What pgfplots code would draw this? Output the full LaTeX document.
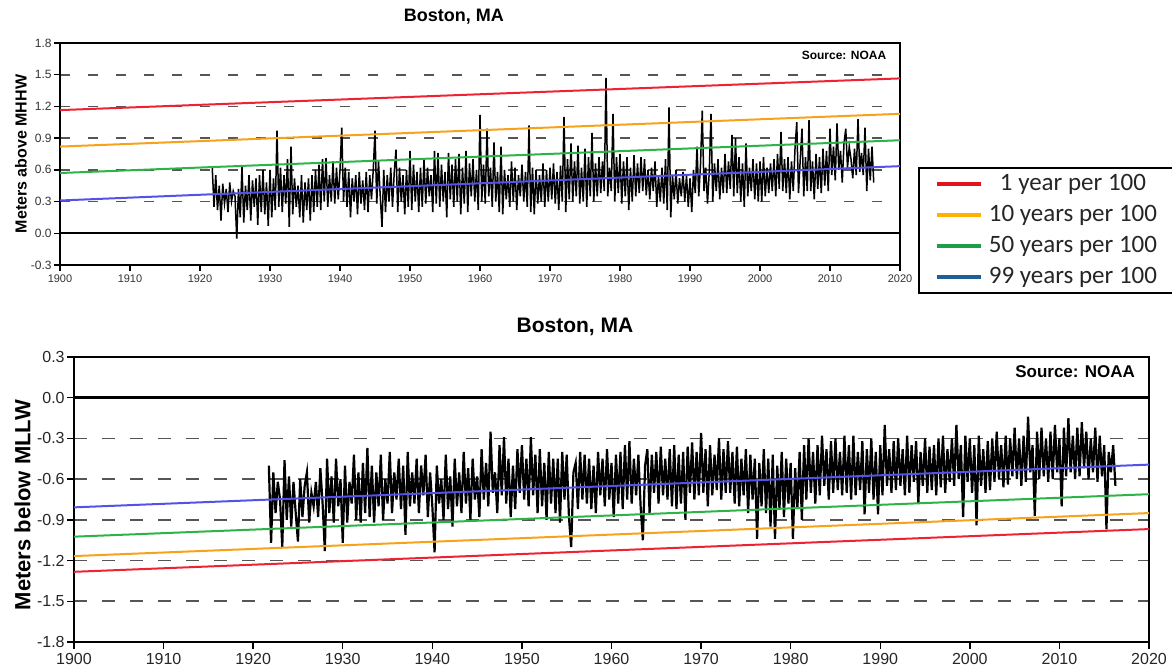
\documentclass[border=0pt]{standalone}
\usepackage{fontspec}
\setmainfont{Liberation Sans}
\newfontfamily\legendfont{Carlito}
\usepackage{pgfplots}
\pgfplotsset{compat=1.18}
% line colours in the panels
\definecolor{lred}{HTML}{EE2233}
\definecolor{lorange}{HTML}{F7A21B}
\definecolor{lgreen}{HTML}{2CB34A}
\definecolor{lblue}{HTML}{5452E6}
% colours used in the legend box
\definecolor{kred}{HTML}{E3131B}
\definecolor{korange}{HTML}{FFB000}
\definecolor{kgreen}{HTML}{1F9E4A}
\definecolor{kblue}{HTML}{1E5F99}
\definecolor{gridc}{HTML}{555555}

\pgfplotsset{
  tide/.style={
    scale only axis,
    xmin=1900, xmax=2020,
    xtick={1900,1910,...,2020},
    xtick pos=left, ytick pos=left,
    tick align=outside, major tick length=3pt,
    tick style={black, line width=0.7pt},
    ymajorgrids,
    /pgf/number format/assume math mode=true,
    x tick label style={/pgf/number format/1000 sep={}},
    y tick label style={/pgf/number format/fixed, /pgf/number format/fixed zerofill,
      /pgf/number format/precision=1},
    clip=true,
  },
}
% legend text: centred, with room after it so the box runs past the page edge
\newcommand\lgd[1]{\makebox[100pt][l]{\makebox[86pt][c]{#1}}}

\begin{document}
\begin{tikzpicture}
\path[use as bounding box] (0,0) rectangle (586pt,336pt);

%----------------------------------------------------------- upper panel
\begin{axis}[tide,
  at={(30pt,203.5pt)}, anchor=south west,
  width=420pt, height=111pt,
  ymin=-0.3, ymax=1.8,
  ytick={-0.3,0,0.3,0.6,0.9,1.2,1.5,1.8},
  axis line style={line width=1pt},
  grid style={dash pattern=on 5pt off 9pt, gridc, line width=0.8pt},
  x tick label style={font=\fontsize{5.5}{6}\selectfont, text=black!80, inner sep=1.5pt},
  y tick label style={font=\fontsize{6}{7}\selectfont, text=black!80, inner sep=1pt},
  title={Boston, MA},
  every axis title/.style={at={(axis description cs:0.469,1)}, yshift=13pt, anchor=center,
    font=\bfseries\fontsize{9}{10}\selectfont},
  ylabel={Meters above MHHW},
  every axis y label/.style={at={(axis description cs:-0.0464,0.5)}, rotate=90, anchor=center,
    font=\bfseries\fontsize{8}{9}\selectfont},
  legend style={at={(axis description cs:1.0214,0.44)}, anchor=north west,
    draw=black, line width=1pt, text=black!85,
    font=\legendfont\fontsize{12.5}{14}\selectfont,
    inner xsep=8pt, inner ysep=1pt, row sep=1.9pt,
    cells={inner xsep=1pt}},
  legend image code/.code={\draw[#1, line width=2pt] (0pt,0pt) -- (22pt,0pt);},
]
\addplot[black, line width=0.75pt, forget plot] coordinates {
(1921.75,0.62)
(1922,0.25)(1922.25,0.55)(1922.5,0.22)(1922.75,0.45)
(1923,0.12)(1923.25,0.47)(1923.5,0.28)(1923.75,0.42)
(1924,0.20)(1924.25,0.48)(1924.5,0.30)(1924.75,0.40)
(1925,0.35)(1925.25,-0.05)(1925.5,0.42)(1925.75,0.15)
(1926,0.63)(1926.25,0.10)(1926.5,0.45)(1926.75,0.22)
(1927,0.55)(1927.25,0.12)(1927.5,0.50)(1927.75,0.25)
(1928,0.52)(1928.25,0.08)(1928.5,0.55)(1928.75,0.20)
(1929,0.60)(1929.25,0.18)(1929.5,0.48)(1929.75,0.07)
(1930,0.60)(1930.25,0.15)(1930.5,0.52)(1930.75,0.22)
(1931,0.97)(1931.25,0.25)(1931.5,0.62)(1931.75,0.20)
(1932,0.55)(1932.25,0.28)(1932.5,0.70)(1932.75,0.06)
(1933,0.82)(1933.25,0.18)(1933.5,0.52)(1933.75,0.25)
(1934,0.45)(1934.25,0.15)(1934.5,0.55)(1934.75,0.10)
(1935,0.48)(1935.25,0.22)(1935.5,0.52)(1935.75,0.12)
(1936,0.55)(1936.25,0.20)(1936.5,0.60)(1936.75,0.25)
(1937,0.65)(1937.25,0.22)(1937.5,0.70)(1937.75,0.30)
(1938,0.71)(1938.25,0.25)(1938.5,0.55)(1938.75,0.30)
(1939,0.68)(1939.25,0.28)(1939.5,0.62)(1939.75,0.32)
(1940,0.60)(1940.25,1.00)(1940.5,0.30)(1940.75,0.62)
(1941,0.25)(1941.25,0.58)(1941.5,0.15)(1941.75,0.52)
(1942,0.30)(1942.25,0.55)(1942.5,0.18)(1942.75,0.58)
(1943,0.28)(1943.25,0.50)(1943.5,0.22)(1943.75,0.58)
(1944,0.20)(1944.25,0.55)(1944.5,0.32)(1944.75,0.60)
(1945,0.97)(1945.25,0.28)(1945.5,0.68)(1945.75,0.35)
(1946,0.06)(1946.25,0.60)(1946.5,0.20)(1946.75,0.55)
(1947,0.30)(1947.25,0.62)(1947.5,0.25)(1947.75,0.58)
(1948,0.79)(1948.25,0.20)(1948.5,0.62)(1948.75,0.30)
(1949,0.55)(1949.25,0.18)(1949.5,0.60)(1949.75,0.25)
(1950,0.78)(1950.25,0.22)(1950.5,0.65)(1950.75,0.30)
(1951,0.58)(1951.25,0.20)(1951.5,0.62)(1951.75,0.25)
(1952,0.70)(1952.25,0.28)(1952.5,0.62)(1952.75,0.35)
(1953,0.55)(1953.25,0.20)(1953.5,0.78)(1953.75,0.28)
(1954,0.76)(1954.25,0.25)(1954.5,0.65)(1954.75,0.30)
(1955,0.58)(1955.25,0.15)(1955.5,0.76)(1955.75,0.32)
(1956,0.65)(1956.25,0.25)(1956.5,0.70)(1956.75,0.30)
(1957,0.75)(1957.25,0.18)(1957.5,0.62)(1957.75,0.28)
(1958,0.78)(1958.25,0.20)(1958.5,0.66)(1958.75,0.35)
(1959,0.70)(1959.25,0.30)(1959.5,0.60)(1959.75,0.22)
(1960,1.12)(1960.25,0.30)(1960.5,0.65)(1960.75,0.28)
(1961,0.99)(1961.25,0.35)(1961.5,0.62)(1961.75,0.25)
(1962,0.86)(1962.25,0.30)(1962.5,0.58)(1962.75,0.20)
(1963,0.82)(1963.25,0.18)(1963.5,0.60)(1963.75,0.32)
(1964,0.55)(1964.25,0.25)(1964.5,0.68)(1964.75,0.30)
(1965,0.62)(1965.25,0.22)(1965.5,0.55)(1965.75,0.35)
(1966,0.65)(1966.25,0.30)(1966.5,0.58)(1966.75,0.25)
(1967,1.02)(1967.25,0.20)(1967.5,0.62)(1967.75,0.18)
(1968,0.60)(1968.25,0.28)(1968.5,0.55)(1968.75,0.30)
(1969,0.66)(1969.25,0.25)(1969.5,0.60)(1969.75,0.30)
(1970,0.62)(1970.25,0.32)(1970.5,0.66)(1970.75,0.28)
(1971,0.58)(1971.25,0.22)(1971.5,0.64)(1971.75,0.30)
(1972,1.10)(1972.25,0.20)(1972.5,0.70)(1972.75,0.32)
(1973,0.85)(1973.25,0.30)(1973.5,0.68)(1973.75,0.35)
(1974,0.83)(1974.25,0.28)(1974.5,0.62)(1974.75,0.30)
(1975,0.80)(1975.25,0.25)(1975.5,0.72)(1975.75,0.35)
(1976,0.95)(1976.25,0.30)(1976.5,0.66)(1976.75,0.35)
(1977,0.72)(1977.25,0.38)(1977.5,0.68)(1977.75,0.40)
(1978,1.47)(1978.25,0.35)(1978.5,0.62)(1978.75,0.40)
(1979,1.13)(1979.25,0.30)(1979.5,0.72)(1979.75,0.38)
(1980,0.75)(1980.25,0.28)(1980.5,0.68)(1980.75,0.35)
(1981,0.72)(1981.25,0.22)(1981.5,0.62)(1981.75,0.30)
(1982,0.74)(1982.25,0.35)(1982.5,0.66)(1982.75,0.38)
(1983,0.72)(1983.25,0.40)(1983.5,0.70)(1983.75,0.36)
(1984,0.60)(1984.25,0.32)(1984.5,0.62)(1984.75,0.40)
(1985,0.68)(1985.25,0.25)(1985.5,0.55)(1985.75,0.30)
(1986,0.62)(1986.25,0.28)(1986.5,0.70)(1986.75,0.22)
(1987,1.19)(1987.25,0.15)(1987.5,0.55)(1987.75,0.32)
(1988,0.60)(1988.25,0.28)(1988.5,0.52)(1988.75,0.35)
(1989,0.58)(1989.25,0.30)(1989.5,0.55)(1989.75,0.25)
(1990,0.52)(1990.25,0.20)(1990.5,0.60)(1990.75,0.38)
(1991,0.82)(1991.25,0.35)(1991.5,0.65)(1991.75,1.16)
(1992,0.40)(1992.25,0.62)(1992.5,0.28)(1992.75,0.58)
(1993,1.13)(1993.25,0.30)(1993.5,0.66)(1993.75,0.40)
(1994,0.70)(1994.25,0.32)(1994.5,0.62)(1994.75,0.38)
(1995,0.75)(1995.25,0.38)(1995.5,0.68)(1995.75,0.42)
(1996,0.93)(1996.25,0.35)(1996.5,0.90)(1996.75,0.38)
(1997,0.72)(1997.25,0.30)(1997.5,0.66)(1997.75,0.25)
(1998,0.85)(1998.25,0.35)(1998.5,0.62)(1998.75,0.40)
(1999,0.70)(1999.25,0.32)(1999.5,0.66)(1999.75,0.30)
(2000,0.68)(2000.25,0.30)(2000.5,0.72)(2000.75,0.35)
(2001,0.62)(2001.25,0.38)(2001.5,0.66)(2001.75,0.40)
(2002,0.70)(2002.25,0.35)(2002.5,0.75)(2002.75,0.42)
(2003,0.96)(2003.25,0.40)(2003.5,0.70)(2003.75,0.38)
(2004,0.72)(2004.25,0.32)(2004.5,0.68)(2004.75,0.40)
(2005,0.80)(2005.25,1.05)(2005.5,0.38)(2005.75,0.70)
(2006,0.99)(2006.25,0.35)(2006.5,0.72)(2006.75,0.40)
(2007,1.07)(2007.25,0.40)(2007.5,0.68)(2007.75,0.32)
(2008,0.75)(2008.25,0.42)(2008.5,0.72)(2008.75,0.38)
(2009,0.80)(2009.25,0.45)(2009.5,0.78)(2009.75,0.40)
(2010,0.99)(2010.25,0.55)(2010.5,0.82)(2010.75,0.50)
(2011,1.04)(2011.25,0.60)(2011.5,0.78)(2011.75,0.48)
(2012,0.85)(2012.25,0.99)(2012.5,0.62)(2012.75,0.82)
(2013,0.70)(2013.25,0.52)(2013.5,0.80)(2013.75,0.55)
(2014,1.08)(2014.25,0.58)(2014.5,0.76)(2014.75,0.55)
(2015,1.00)(2015.25,0.40)(2015.5,0.80)(2015.75,0.50)
(2016,0.82)(2016.25,0.48)
};
\addplot[black, line width=1pt, forget plot] coordinates {(1900,0) (2020,0)};
\addplot[lred, line width=1pt, forget plot] coordinates {(1900,1.165) (2020,1.465)};
\addplot[lorange, line width=1pt, forget plot] coordinates {(1900,0.82) (2020,1.13)};
\addplot[lgreen, line width=1pt, forget plot] coordinates {(1900,0.57) (2020,0.88)};
\addplot[lblue, line width=1pt, forget plot] coordinates {(1900,0.31) (2020,0.635)};
\node[anchor=east, font=\bfseries\fontsize{6}{7}\selectfont] at (axis description cs:0.992,0.946) {Source: NOAA};
\addlegendimage{kred}\addlegendentry{\lgd{1 year per 100}}
\addlegendimage{korange}\addlegendentry{\lgd{10 years per 100}}
\addlegendimage{kgreen}\addlegendentry{\lgd{50 years per 100}}
\addlegendimage{kblue}\addlegendentry{\lgd{99 years per 100}}
\end{axis}

%----------------------------------------------------------- lower panel
\begin{axis}[tide,
  at={(37pt,15pt)}, anchor=south west,
  width=537.5pt, height=142.5pt,
  ymin=-1.8, ymax=0.3,
  ytick={-1.8,-1.5,-1.2,-0.9,-0.6,-0.3,0,0.3},
  axis line style={line width=1.3pt},
  major tick length=3.5pt,
  grid style={dash pattern=on 6.5pt off 7.5pt, gridc, line width=0.9pt},
  x tick label style={font=\fontsize{8}{9}\selectfont, text=black!85, inner sep=2pt},
  y tick label style={font=\fontsize{8}{9}\selectfont, text=black!85, inner sep=1pt},
  title={Boston, MA},
  every axis title/.style={at={(axis description cs:0.466,1)}, yshift=15pt, anchor=center,
    font=\bfseries\fontsize{10.5}{12}\selectfont},
  ylabel={Meters below MLLW},
  every axis y label/.style={at={(axis description cs:-0.048,0.48)}, rotate=90, anchor=center,
    font=\bfseries\fontsize{11}{12}\selectfont},
]
\addplot[black, line width=1.1pt] coordinates {
(1921.75,-0.50)
(1922,-1.07)(1922.25,-0.55)(1922.5,-0.85)(1922.75,-0.62)
(1923,-0.75)(1923.25,-1.10)(1923.5,-0.46)(1923.75,-0.90)
(1924,-0.58)(1924.25,-0.95)(1924.5,-0.62)(1924.75,-0.85)
(1925,-1.06)(1925.25,-0.60)(1925.5,-0.88)(1925.75,-0.65)
(1926,-0.55)(1926.25,-0.92)(1926.5,-0.70)(1926.75,-0.80)
(1927,-0.62)(1927.25,-0.88)(1927.5,-0.52)(1927.75,-0.78)
(1928,-1.13)(1928.25,-0.45)(1928.5,-0.85)(1928.75,-0.58)
(1929,-0.92)(1929.25,-0.45)(1929.5,-0.80)(1929.75,-0.60)
(1930,-1.07)(1930.25,-0.50)(1930.5,-0.92)(1930.75,-0.62)
(1931,-0.78)(1931.25,-0.42)(1931.5,-0.90)(1931.75,-0.55)
(1932,-0.92)(1932.25,-0.48)(1932.5,-0.85)(1932.75,-0.37)
(1933,-0.88)(1933.25,-0.50)(1933.5,-0.92)(1933.75,-0.55)
(1934,-0.80)(1934.25,-0.42)(1934.5,-0.90)(1934.75,-0.60)
(1935,-0.78)(1935.25,-0.40)(1935.5,-0.85)(1935.75,-0.55)
(1936,-0.75)(1936.25,-0.45)(1936.5,-0.82)(1936.75,-0.50)
(1937,-1.01)(1937.25,-0.40)(1937.5,-0.80)(1937.75,-0.55)
(1938,-0.78)(1938.25,-0.45)(1938.5,-0.85)(1938.75,-0.50)
(1939,-0.72)(1939.25,-0.42)(1939.5,-0.88)(1939.75,-0.55)
(1940,-0.80)(1940.25,-1.14)(1940.5,-0.50)(1940.75,-0.78)
(1941,-0.60)(1941.25,-0.90)(1941.5,-0.42)(1941.75,-0.82)
(1942,-0.58)(1942.25,-0.95)(1942.5,-0.45)(1942.75,-0.80)
(1943,-0.55)(1943.25,-0.85)(1943.5,-0.40)(1943.75,-0.78)
(1944,-0.52)(1944.25,-0.90)(1944.5,-0.45)(1944.75,-0.75)
(1945,-0.58)(1945.25,-0.88)(1945.5,-0.38)(1945.75,-0.75)
(1946,-0.48)(1946.25,-0.80)(1946.5,-0.25)(1946.75,-0.70)
(1947,-0.55)(1947.25,-0.85)(1947.5,-0.35)(1947.75,-0.72)
(1948,-0.29)(1948.25,-0.78)(1948.5,-0.45)(1948.75,-0.88)
(1949,-0.50)(1949.25,-0.82)(1949.5,-0.38)(1949.75,-0.70)
(1950,-0.35)(1950.25,-0.75)(1950.5,-0.45)(1950.75,-0.80)
(1951,-0.29)(1951.25,-0.72)(1951.5,-0.42)(1951.75,-0.85)
(1952,-0.38)(1952.25,-0.80)(1952.5,-0.48)(1952.75,-0.90)
(1953,-0.40)(1953.25,-0.78)(1953.5,-0.45)(1953.75,-0.85)
(1954,-0.45)(1954.25,-0.92)(1954.5,-0.40)(1954.75,-0.75)
(1955,-0.42)(1955.25,-0.88)(1955.5,-1.10)(1955.75,-0.55)
(1956,-0.48)(1956.25,-0.82)(1956.5,-0.40)(1956.75,-0.75)
(1957,-0.42)(1957.25,-0.78)(1957.5,-0.45)(1957.75,-0.82)
(1958,-0.50)(1958.25,-0.85)(1958.5,-0.40)(1958.75,-0.72)
(1959,-0.45)(1959.25,-0.80)(1959.5,-0.38)(1959.75,-0.75)
(1960,-0.48)(1960.25,-0.88)(1960.5,-0.42)(1960.75,-0.78)
(1961,-0.40)(1961.25,-0.82)(1961.5,-0.35)(1961.75,-0.75)
(1962,-0.32)(1962.25,-0.78)(1962.5,-0.45)(1962.75,-0.72)
(1963,-0.42)(1963.25,-0.80)(1963.5,-1.05)(1963.75,-0.50)
(1964,-0.38)(1964.25,-0.85)(1964.5,-0.42)(1964.75,-0.70)
(1965,-0.40)(1965.25,-0.78)(1965.5,-0.36)(1965.75,-0.72)
(1966,-0.45)(1966.25,-0.75)(1966.5,-0.38)(1966.75,-0.80)
(1967,-0.35)(1967.25,-0.82)(1967.5,-0.42)(1967.75,-0.78)
(1968,-0.40)(1968.25,-0.90)(1968.5,-0.36)(1968.75,-0.70)
(1969,-0.33)(1969.25,-0.75)(1969.5,-0.40)(1969.75,-0.72)
(1970,-0.26)(1970.25,-0.70)(1970.5,-0.38)(1970.75,-0.80)
(1971,-0.35)(1971.25,-0.72)(1971.5,-0.42)(1971.75,-0.68)
(1972,-0.30)(1972.25,-0.75)(1972.5,-0.38)(1972.75,-0.70)
(1973,-0.32)(1973.25,-0.70)(1973.5,-0.40)(1973.75,-0.78)
(1974,-0.36)(1974.25,-0.80)(1974.5,-0.45)(1974.75,-0.72)
(1975,-0.38)(1975.25,-0.85)(1975.5,-0.42)(1975.75,-0.75)
(1976,-0.45)(1976.25,-1.04)(1976.5,-0.48)(1976.75,-0.80)
(1977,-0.38)(1977.25,-0.85)(1977.5,-0.45)(1977.75,-0.95)
(1978,-0.42)(1978.25,-1.04)(1978.5,-0.50)(1978.75,-0.82)
(1979,-0.40)(1979.25,-0.88)(1979.5,-0.45)(1979.75,-0.78)
(1980,-0.48)(1980.25,-1.04)(1980.5,-0.52)(1980.75,-0.82)
(1981,-0.40)(1981.25,-0.90)(1981.5,-0.35)(1981.75,-0.75)
(1982,-0.30)(1982.25,-0.70)(1982.5,-0.40)(1982.75,-0.78)
(1983,-0.35)(1983.25,-0.72)(1983.5,-0.28)(1983.75,-0.65)
(1984,-0.38)(1984.25,-0.75)(1984.5,-0.32)(1984.75,-0.70)
(1985,-0.30)(1985.25,-0.68)(1985.5,-0.40)(1985.75,-0.72)
(1986,-0.28)(1986.25,-0.70)(1986.5,-0.35)(1986.75,-0.75)
(1987,-0.28)(1987.25,-0.72)(1987.5,-0.40)(1987.75,-0.68)
(1988,-0.32)(1988.25,-0.86)(1988.5,-0.38)(1988.75,-0.70)
(1989,-0.30)(1989.25,-0.75)(1989.5,-0.40)(1989.75,-0.86)
(1990,-0.35)(1990.25,-0.72)(1990.5,-0.20)(1990.75,-0.65)
(1991,-0.38)(1991.25,-0.70)(1991.5,-0.32)(1991.75,-0.68)
(1992,-0.30)(1992.25,-0.65)(1992.5,-0.38)(1992.75,-0.72)
(1993,-0.28)(1993.25,-0.70)(1993.5,-0.35)(1993.75,-0.62)
(1994,-0.32)(1994.25,-0.78)(1994.5,-0.40)(1994.75,-0.65)
(1995,-0.30)(1995.25,-0.70)(1995.5,-0.36)(1995.75,-0.68)
(1996,-0.35)(1996.25,-0.72)(1996.5,-0.30)(1996.75,-0.66)
(1997,-0.28)(1997.25,-0.70)(1997.5,-0.38)(1997.75,-0.62)
(1998,-0.30)(1998.25,-0.65)(1998.5,-0.20)(1998.75,-0.60)
(1999,-0.35)(1999.25,-0.88)(1999.5,-0.28)(1999.75,-0.62)
(2000,-0.30)(2000.25,-0.70)(2000.5,-0.35)(2000.75,-0.94)
(2001,-0.28)(2001.25,-0.65)(2001.5,-0.38)(2001.75,-0.70)
(2002,-0.32)(2002.25,-0.68)(2002.5,-0.30)(2002.75,-0.62)
(2003,-0.25)(2003.25,-0.60)(2003.5,-0.35)(2003.75,-0.66)
(2004,-0.28)(2004.25,-0.64)(2004.5,-0.30)(2004.75,-0.58)
(2005,-0.22)(2005.25,-0.60)(2005.5,-0.30)(2005.75,-0.65)
(2006,-0.28)(2006.25,-0.62)(2006.5,-0.14)(2006.75,-0.55)
(2007,-0.35)(2007.25,-0.87)(2007.5,-0.25)(2007.75,-0.60)
(2008,-0.22)(2008.25,-0.58)(2008.5,-0.30)(2008.75,-0.62)
(2009,-0.25)(2009.25,-0.60)(2009.5,-0.20)(2009.75,-0.55)
(2010,-0.30)(2010.25,-0.80)(2010.5,-0.22)(2010.75,-0.58)
(2011,-0.15)(2011.25,-0.55)(2011.5,-0.28)(2011.75,-0.60)
(2012,-0.22)(2012.25,-0.58)(2012.5,-0.18)(2012.75,-0.52)
(2013,-0.25)(2013.25,-0.60)(2013.5,-0.30)(2013.75,-0.55)
(2014,-0.22)(2014.25,-0.62)(2014.5,-0.28)(2014.75,-0.58)
(2015,-0.35)(2015.25,-0.97)(2015.5,-0.40)(2015.75,-0.55)
(2016,-0.35)(2016.25,-0.65)
};
\addplot[black, line width=1.3pt] coordinates {(1900,0) (2020,0)};
\addplot[lblue, line width=1pt] coordinates {(1900,-0.808) (2020,-0.493)};
\addplot[lgreen, line width=1pt] coordinates {(1900,-1.024) (2020,-0.711)};
\addplot[lorange, line width=1pt] coordinates {(1900,-1.167) (2020,-0.85)};
\addplot[lred, line width=1pt] coordinates {(1900,-1.283) (2020,-0.968)};
\node[anchor=east, font=\bfseries\fontsize{8.5}{10}\selectfont] at (axis description cs:0.9935,0.947) {Source: NOAA};
\end{axis}
\end{tikzpicture}
\end{document}
